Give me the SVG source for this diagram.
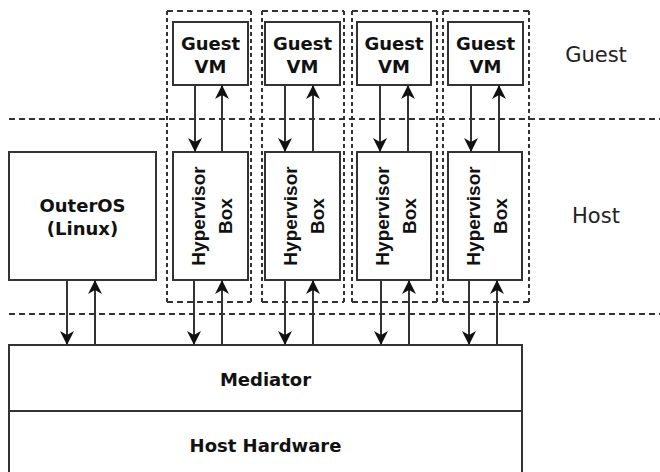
<svg xmlns="http://www.w3.org/2000/svg" width="660" height="472" viewBox="0 0 660 472">
  <defs>
    <marker id="arrow" markerUnits="userSpaceOnUse" markerWidth="16" markerHeight="16" refX="14" refY="7" orient="auto">
      <path d="M0,0 L14,7 L0,14 L4,7 Z" fill="#111"/>
    </marker>
    <style>
      .box { fill: #fff; stroke: #333; stroke-width: 2; }
      .zone-h { fill: none; stroke: #333; stroke-width: 2; stroke-dasharray: 6 4; }
      .zone-v { fill: none; stroke: #333; stroke-width: 2; stroke-dasharray: 4 3; }
      .divider { fill: none; stroke: #333; stroke-width: 2; stroke-dasharray: 6 4; }
      .link { fill: none; stroke: #333; stroke-width: 2; marker-end: url(#arrow); }
      .bold { font-family: "DejaVu Sans", sans-serif; font-weight: bold; font-size: 18px; fill: #111; text-anchor: middle; }
      .vert { font-family: "Liberation Sans", Arial, sans-serif; font-weight: bold; font-size: 19px; fill: #111; text-anchor: middle; }
      .layer { font-family: "DejaVu Sans", sans-serif; font-size: 21px; fill: #222; text-anchor: middle; }
    </style>
  </defs>

  <!-- layer separators -->
  <g id="separators">
    <line class="divider" x1="9" y1="119" x2="660" y2="119"/>
    <line class="divider" x1="9" y1="314" x2="660" y2="314"/>
  </g>

  <!-- layer labels -->
  <g id="layer-labels">
    <text class="layer" x="596" y="62">Guest</text>
    <text class="layer" x="596" y="223">Host</text>
  </g>

  <!-- per-VM dashed containers -->
  <g id="vm-containers">
    <path class="zone-h" d="M167,11 H251 M167,302 H251"/>
    <path class="zone-v" d="M167,11 V302 M251,11 V302"/>
    <path class="zone-h" d="M262,11 H344 M262,302 H344"/>
    <path class="zone-v" d="M262,11 V302 M344,11 V302"/>
    <path class="zone-h" d="M352,11 H437 M352,302 H437"/>
    <path class="zone-v" d="M352,11 V302 M437,11 V302"/>
    <path class="zone-h" d="M443,11 H529 M443,302 H529"/>
    <path class="zone-v" d="M443,11 V302 M529,11 V302"/>
  </g>

  <!-- guest VMs -->
  <g id="guest-vm-1">
    <rect class="box" x="173" y="22" width="75" height="63"/>
    <text class="bold" x="210.5" y="50">Guest</text>
    <text class="bold" x="210.5" y="73">VM</text>
  </g>
  <g id="guest-vm-2">
    <rect class="box" x="265" y="22" width="75" height="63"/>
    <text class="bold" x="302.5" y="50">Guest</text>
    <text class="bold" x="302.5" y="73">VM</text>
  </g>
  <g id="guest-vm-3">
    <rect class="box" x="357" y="22" width="74" height="63"/>
    <text class="bold" x="394" y="50">Guest</text>
    <text class="bold" x="394" y="73">VM</text>
  </g>
  <g id="guest-vm-4">
    <rect class="box" x="448" y="22" width="75" height="63"/>
    <text class="bold" x="485.5" y="50">Guest</text>
    <text class="bold" x="485.5" y="73">VM</text>
  </g>

  <!-- host side -->
  <g id="outer-os">
    <rect class="box" x="9" y="152" width="147" height="128"/>
    <text class="bold" x="82.5" y="212">OuterOS</text>
    <text class="bold" x="82.5" y="235">(Linux)</text>
  </g>

  <g id="hypervisor-1">
    <rect class="box" x="173" y="152" width="75" height="128"/>
    <text class="vert" transform="translate(210.5,216) rotate(-90)"><tspan x="0" y="-5.5">Hypervisor</tspan><tspan x="0" y="21.5">Box</tspan></text>
  </g>
  <g id="hypervisor-2">
    <rect class="box" x="265" y="152" width="75" height="128"/>
    <text class="vert" transform="translate(302.5,216) rotate(-90)"><tspan x="0" y="-5.5">Hypervisor</tspan><tspan x="0" y="21.5">Box</tspan></text>
  </g>
  <g id="hypervisor-3">
    <rect class="box" x="357" y="152" width="74" height="128"/>
    <text class="vert" transform="translate(394,216) rotate(-90)"><tspan x="0" y="-5.5">Hypervisor</tspan><tspan x="0" y="21.5">Box</tspan></text>
  </g>
  <g id="hypervisor-4">
    <rect class="box" x="448" y="152" width="74" height="128"/>
    <text class="vert" transform="translate(485,216) rotate(-90)"><tspan x="0" y="-5.5">Hypervisor</tspan><tspan x="0" y="21.5">Box</tspan></text>
  </g>

  <g id="mediator">
    <rect class="box" x="9" y="345" width="513" height="66"/>
    <text class="bold" x="265.5" y="386">Mediator</text>
  </g>
  <g id="host-hardware">
    <rect class="box" x="9" y="411" width="513" height="70"/>
    <text class="bold" x="265.5" y="452">Host Hardware</text>
  </g>

  <!-- connectors -->
  <g id="connectors">
    <!-- guest VM <-> hypervisor box -->
    <line class="link" x1="195" y1="85" x2="195" y2="152"/>
    <line class="link" x1="222" y1="152" x2="222" y2="85"/>
    <line class="link" x1="285" y1="85" x2="285" y2="152"/>
    <line class="link" x1="313" y1="152" x2="313" y2="85"/>
    <line class="link" x1="380" y1="85" x2="380" y2="152"/>
    <line class="link" x1="408" y1="152" x2="408" y2="85"/>
    <line class="link" x1="471" y1="85" x2="471" y2="152"/>
    <line class="link" x1="499" y1="152" x2="499" y2="85"/>
    <!-- host components <-> mediator -->
    <line class="link" x1="67" y1="280" x2="67" y2="345"/>
    <line class="link" x1="95" y1="345" x2="95" y2="280"/>
    <line class="link" x1="194" y1="280" x2="194" y2="345"/>
    <line class="link" x1="222" y1="345" x2="222" y2="280"/>
    <line class="link" x1="285" y1="280" x2="285" y2="345"/>
    <line class="link" x1="313" y1="345" x2="313" y2="280"/>
    <line class="link" x1="381" y1="280" x2="381" y2="345"/>
    <line class="link" x1="409" y1="345" x2="409" y2="280"/>
    <line class="link" x1="469" y1="280" x2="469" y2="345"/>
    <line class="link" x1="497" y1="345" x2="497" y2="280"/>
  </g>
</svg>
